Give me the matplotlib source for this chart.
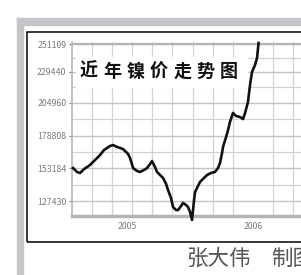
import numpy as np
import matplotlib
matplotlib.use("Agg")
import matplotlib.pyplot as plt
from matplotlib.patches import Rectangle

plt.rcParams['font.family'] = ['Noto Sans CJK SC', 'DejaVu Sans']

# nickel price, x in decimal years
years = [2004.571, 2004.603, 2004.627, 2004.659, 2004.683, 2004.706, 2004.730,
         2004.762, 2004.786, 2004.817, 2004.841, 2004.865, 2004.889, 2004.921,
         2004.944, 2004.968, 2004.984, 2005.008, 2005.024, 2005.048, 2005.079,
         2005.103, 2005.135, 2005.159, 2005.183, 2005.198, 2005.222, 2005.238,
         2005.262, 2005.286, 2005.310, 2005.325, 2005.349, 2005.365, 2005.389,
         2005.405, 2005.429, 2005.444, 2005.468, 2005.484, 2005.500, 2005.516,
         2005.532, 2005.540, 2005.563, 2005.579, 2005.611, 2005.635, 2005.667,
         2005.698, 2005.722, 2005.738, 2005.754, 2005.762, 2005.786, 2005.802,
         2005.817, 2005.841, 2005.865, 2005.897, 2005.921, 2005.937, 2005.960,
         2005.976, 2005.992, 2006.016, 2006.032, 2006.040, 2006.044]
prices = [153400, 150300, 149500, 152600, 154200, 155800, 158200,
          161300, 163700, 167600, 169200, 170800, 171500, 170000,
          169200, 168400, 166800, 164500, 161300, 153400, 151100,
          150300, 151900, 153400, 156600, 158900, 154200, 150300,
          147900, 145600, 140800, 136100, 129800, 122700, 120300,
          120300, 123500, 125900, 124300, 122700, 118800, 112500,
          128200, 134500, 139200, 142400, 145600, 147900, 149500,
          150300, 153400, 157400, 165200, 170000, 177800, 183400,
          189700, 196800, 194400, 193600, 192000, 196800, 205400,
          218800, 229100, 234600, 240100, 248000, 251900]

ytick_vals = [127430, 153184, 178808, 204960, 229440, 251109]
ytick_labels = ['127430', '153184', '178808', '204960', '229440', '251109']
xtick_vals = [2005, 2006]
xtick_labels = ['2005', '2006']

title = '近年镍价走势图'
credit = ['张大伟', '制图']

W, H = 301, 275
fig = plt.figure(figsize=(W / 100, H / 100), dpi=100)


def fx(px):
    return px / W


def fy(py):
    return 1 - py / H


# outer newspaper frame
fig.patches.append(Rectangle((fx(17), fy(25)), 1, 7 / H, transform=fig.transFigure,
                             color='#c4c5c9', zorder=0))
fig.patches.append(Rectangle((fx(17), 0), 6 / W, fy(18), transform=fig.transFigure,
                             color='#c4c5c9', zorder=0))
fig.patches.append(Rectangle((fx(27), fy(242)), 1, 210 / H, transform=fig.transFigure,
                             fill=False, edgecolor='black', lw=1.1, zorder=0))

ax = fig.add_axes([fx(72), fy(216), fx(316) - fx(72), (216 - 42) / H])
ax.set_xlim(2004.563, 2006.5)
ax.set_ylim(115614, 252685)

ax.plot(years, prices, color='#111111', lw=1.9, clip_on=False, zorder=5)

ax.set_yticks(ytick_vals)
ax.set_yticklabels(ytick_labels)
ax.set_xticks(xtick_vals)
ax.set_xticklabels(xtick_labels)
ax.tick_params(axis='y', labelsize=6.3, colors='#7a7a7a', length=2, pad=2)
ax.tick_params(axis='x', labelsize=6.3, colors='#7a7a7a', length=0, pad=4)

ax.set_yticks([(a + b) / 2 for a, b in zip(ytick_vals[:-1], ytick_vals[1:])], minor=True)
ax.set_xticks(np.arange(2004.72, 2006.5, 0.16), minor=True)
ax.tick_params(which='minor', length=0)
ax.grid(which='major', axis='y', color='#c4c4c4', lw=1.0)
ax.grid(which='minor', color='#d2d2d2', lw=0.9)

for side in ['top', 'right']:
    ax.spines[side].set_visible(False)
ax.spines['left'].set_color('#b8b8b8')
ax.spines['left'].set_linewidth(1.2)
ax.spines['bottom'].set_color('#b4b4b4')
ax.spines['bottom'].set_linewidth(2.5)
ax.axhline(ytick_vals[-1], color='#b4b4b4', lw=1.6)

# title with white box
fig.patches.append(Rectangle((fx(76), fy(87)), (247 - 76) / W, 30 / H,
                             transform=fig.transFigure, color='white', zorder=3))
for i, ch in enumerate(title):
    fig.text(fx(89 + i * 23.3), fy(71.5), ch, fontsize=13, weight='bold',
             ha='center', va='center', color='#111111', zorder=4)

fig.text(fx(186), fy(259), credit[0], fontsize=15.5, color='#555555',
         ha='left', va='center')
fig.text(fx(271), fy(259), credit[1], fontsize=15.5, color='#555555',
         ha='left', va='center')

fig.savefig('out.png', dpi=100)
